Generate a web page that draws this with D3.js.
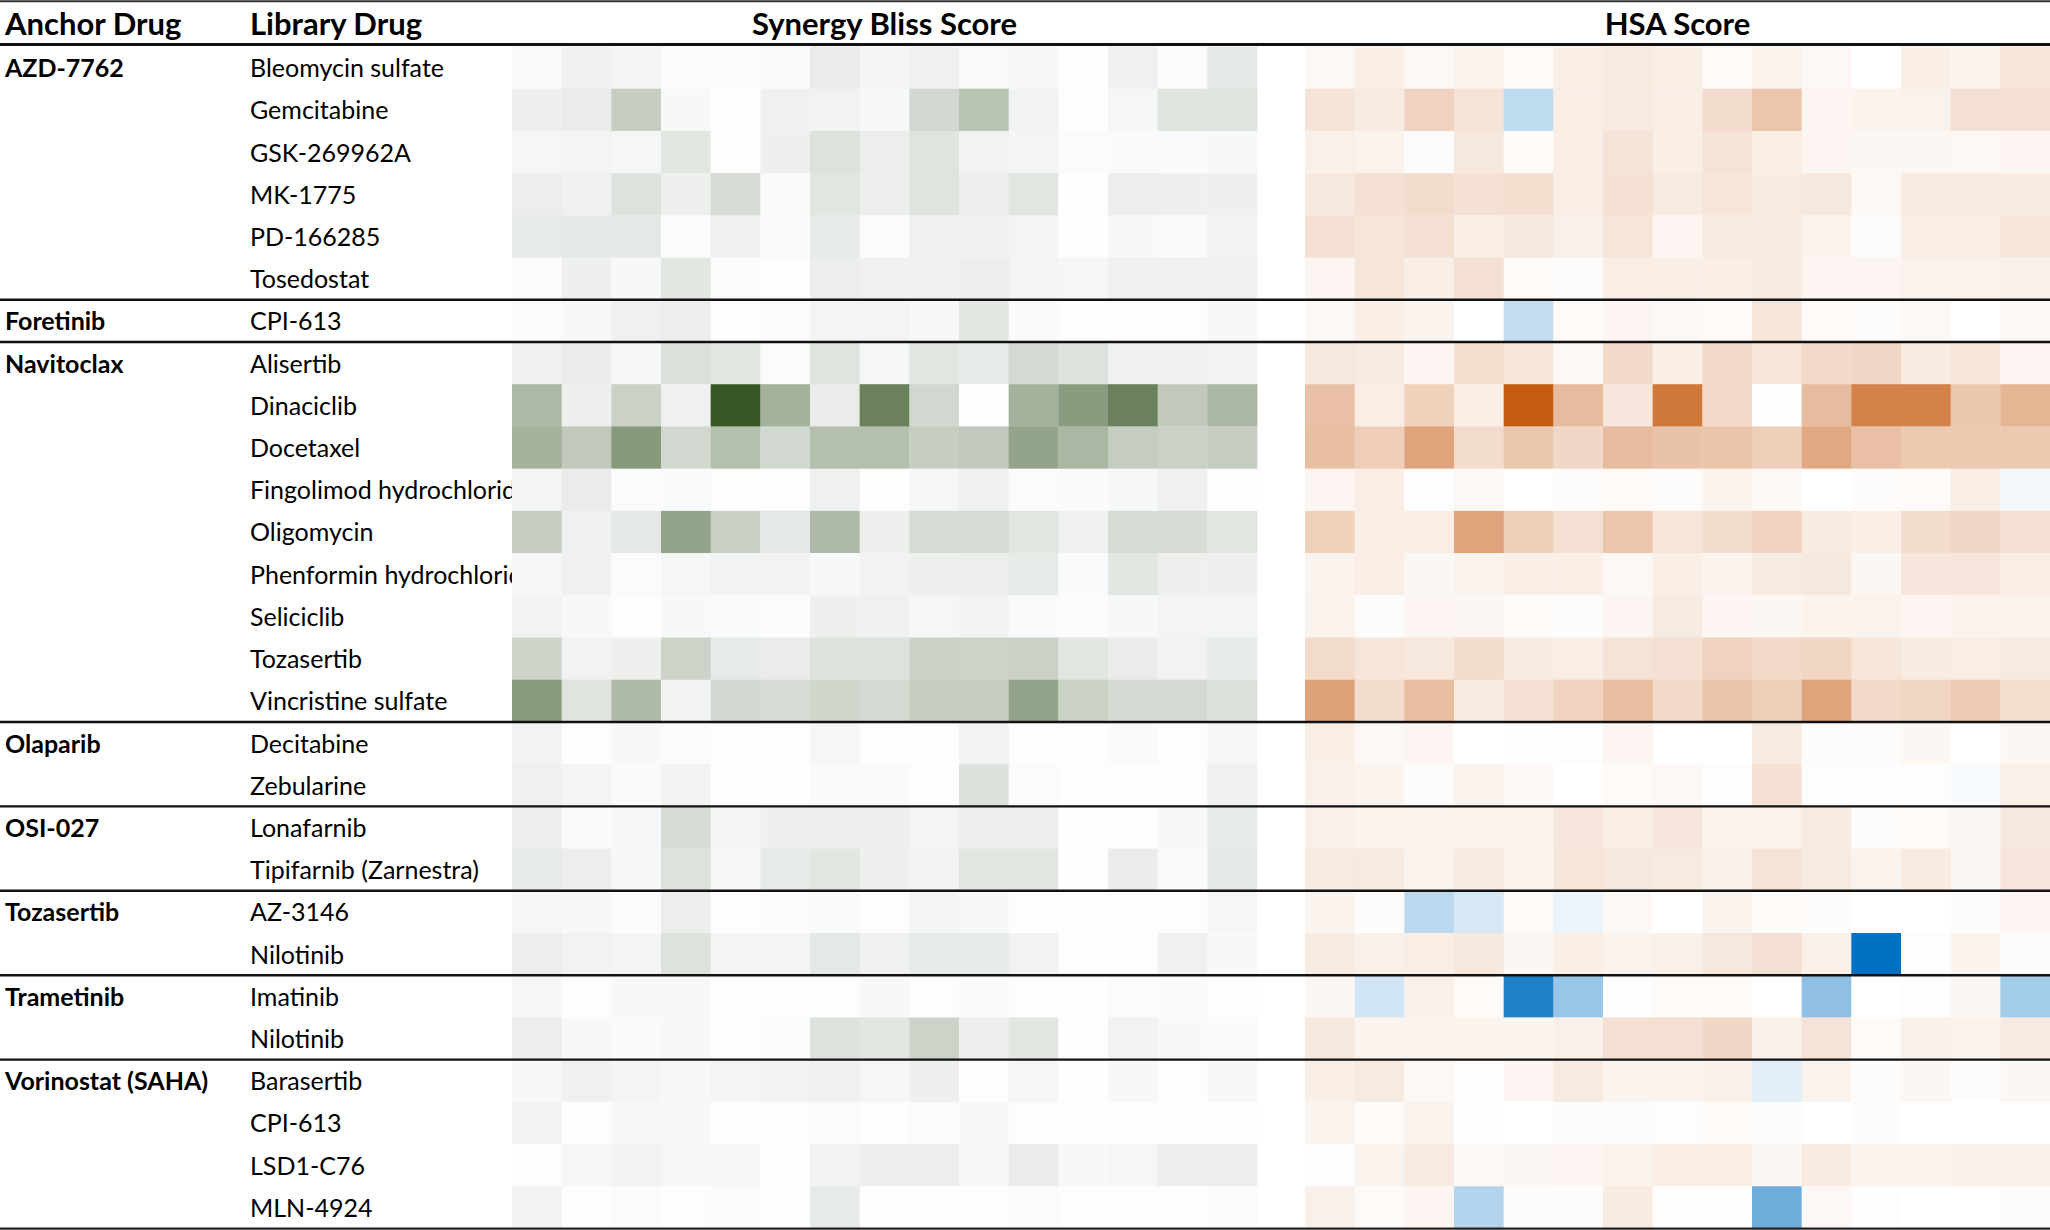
<!DOCTYPE html>
<html>
<head>
<meta charset="utf-8">
<script src="https://cdn.jsdelivr.net/npm/d3@7"></script>
<style>
  html, body { margin: 0; padding: 0; background: #ffffff; }
  svg { display: block; font-family: Lato, "Open Sans", sans-serif; }
</style>
</head>
<body>
<svg id="chart" width="2050" height="1230"></svg>
<script>
// ---------------- DATA ----------------
const columnHeaders = ["Anchor Drug", "Library Drug"];
const panelTitles = ["Synergy Bliss Score", "HSA Score"];
const anchorDrugs = ["AZD-7762", "Foretinib", "Navitoclax", "Olaparib", "OSI-027", "Tozasertib", "Trametinib", "Vorinostat (SAHA)"];
const groupSizes = [6, 1, 9, 2, 2, 2, 2, 4];
const libraryDrugs = [
  "Bleomycin sulfate", "Gemcitabine", "GSK-269962A", "MK-1775", "PD-166285", "Tosedostat",
  "CPI-613",
  "Alisertib", "Dinaciclib", "Docetaxel", "Fingolimod hydrochloride", "Oligomycin",
  "Phenformin hydrochloride", "Seliciclib", "Tozasertib", "Vincristine sulfate",
  "Decitabine", "Zebularine",
  "Lonafarnib", "Tipifarnib (Zarnestra)",
  "AZ-3146", "Nilotinib",
  "Imatinib", "Nilotinib",
  "Barasertib", "CPI-613", "LSD1-C76", "MLN-4924"
];
// relative synergy intensity (0 = none, 100 = strongest)
const blissScores = [
  [2, 7, 5, 1, 1, 2, 10, 5, 7, 2, 3, 0, 7, 1, 12],
  [8, 10, 28, 3, 0, 7, 6, 3, 22, 35, 6, 0, 4, 15, 15],
  [4, 5, 4, 13, 0, 8, 16, 9, 15, 6, 5, 1, 2, 2, 3],
  [9, 7, 16, 8, 19, 2, 14, 9, 15, 9, 14, 0, 9, 8, 8],
  [11, 12, 12, 1, 7, 2, 11, 1, 7, 7, 5, 0, 3, 2, 6],
  [1, 8, 3, 13, 1, 0, 9, 7, 7, 9, 5, 4, 7, 7, 7],
  [1, 3, 7, 9, 0, 1, 5, 5, 3, 13, 2, 0, 0, 0, 3],
  [7, 10, 4, 17, 13, 1, 15, 4, 14, 11, 21, 16, 7, 7, 6],
  [41, 8, 26, 7, 100, 45, 10, 74, 22, 0, 45, 58, 74, 31, 42],
  [45, 31, 60, 22, 37, 22, 37, 37, 28, 31, 53, 42, 29, 26, 28],
  [5, 10, 1, 2, 0, 0, 7, 0, 4, 7, 1, 2, 3, 7, 0],
  [28, 7, 12, 53, 27, 12, 40, 8, 20, 20, 14, 7, 20, 19, 13],
  [4, 7, 1, 4, 6, 6, 3, 6, 8, 9, 11, 2, 13, 8, 8],
  [6, 3, 0, 3, 2, 1, 8, 7, 4, 6, 2, 1, 3, 5, 5],
  [24, 6, 8, 25, 11, 10, 16, 16, 26, 25, 26, 14, 10, 6, 11],
  [58, 15, 40, 6, 22, 20, 23, 21, 29, 28, 53, 26, 21, 21, 17],
  [6, 0, 3, 1, 0, 0, 4, 0, 0, 6, 0, 0, 2, 0, 4],
  [7, 5, 2, 6, 0, 0, 2, 2, 0, 17, 1, 0, 0, 0, 7],
  [9, 2, 3, 19, 5, 8, 8, 8, 5, 8, 9, 0, 0, 3, 11],
  [11, 9, 3, 16, 3, 11, 13, 8, 6, 14, 14, 0, 10, 2, 12],
  [4, 3, 1, 9, 0, 1, 2, 0, 5, 3, 0, 0, 0, 0, 4],
  [9, 6, 5, 16, 5, 5, 12, 7, 11, 11, 6, 0, 0, 7, 3],
  [4, 0, 3, 3, 0, 0, 0, 3, 0, 2, 0, 0, 1, 2, 0],
  [9, 3, 2, 3, 0, 1, 16, 14, 25, 8, 14, 0, 6, 3, 2],
  [3, 7, 5, 3, 5, 6, 7, 4, 8, 0, 4, 0, 3, 0, 3],
  [6, 0, 3, 3, 0, 0, 1, 0, 1, 3, 0, 0, 0, 0, 0],
  [0, 4, 6, 4, 3, 0, 6, 9, 9, 3, 10, 3, 4, 9, 9],
  [6, 0, 1, 0, 1, 0, 11, 0, 0, 0, 1, 0, 0, 0, 1]
];
// relative HSA intensity (-100 strongest antagonism, +100 strongest synergy)
const hsaScores = [
  [4, 10, 4, 8, 3, 10, 13, 10, 3, 7, 4, 0, 10, 7, 16],
  [17, 12, 27, 17, -25, 11, 13, 11, 21, 35, 6, 7, 8, 19, 19],
  [9, 8, 2, 14, 3, 11, 17, 10, 17, 11, 6, 5, 5, 4, 6],
  [14, 18, 21, 18, 20, 11, 18, 13, 16, 12, 14, 4, 13, 12, 12],
  [18, 16, 18, 10, 14, 9, 16, 6, 12, 12, 7, 2, 10, 11, 16],
  [6, 16, 10, 18, 3, 2, 11, 10, 10, 12, 6, 6, 8, 8, 9],
  [4, 10, 7, 0, -24, 3, 6, 4, 3, 16, 3, 2, 4, 0, 4],
  [14, 13, 6, 20, 16, 4, 23, 10, 23, 16, 23, 24, 12, 16, 6],
  [38, 11, 28, 10, 100, 41, 15, 82, 23, 1, 41, 76, 76, 34, 45],
  [39, 30, 55, 21, 34, 24, 41, 37, 36, 29, 52, 38, 33, 33, 33],
  [6, 11, 1, 4, 0, 2, 3, 2, 7, 4, 0, 2, 3, 11, -5],
  [28, 10, 11, 55, 29, 19, 35, 16, 21, 26, 12, 10, 21, 24, 19],
  [7, 11, 5, 7, 10, 10, 4, 10, 7, 12, 14, 5, 15, 15, 11],
  [8, 2, 6, 5, 3, 2, 6, 13, 6, 5, 7, 8, 6, 7, 8],
  [22, 16, 14, 21, 12, 11, 17, 18, 27, 23, 25, 16, 12, 11, 13],
  [56, 21, 40, 12, 19, 26, 40, 23, 36, 29, 55, 23, 25, 31, 20],
  [10, 4, 6, 0, 1, 1, 6, 0, 0, 12, 2, 2, 5, 0, 5],
  [9, 7, 2, 7, 4, 0, 3, 4, 1, 18, 1, 1, 1, -3, 9],
  [9, 7, 7, 8, 8, 15, 10, 15, 7, 8, 12, 2, 3, 5, 14],
  [13, 13, 7, 12, 8, 16, 14, 13, 9, 17, 13, 8, 12, 5, 15],
  [7, 2, -27, -16, 3, -8, 4, 0, 7, 3, 2, 0, 0, 2, 6],
  [12, 9, 11, 14, 5, 10, 8, 9, 14, 19, 9, -100, 1, 7, 2],
  [5, -18, 9, 3, -88, -40, 1, 3, 3, 0, -44, 0, 1, 5, -36],
  [14, 7, 7, 7, 7, 9, 19, 19, 24, 9, 17, 3, 9, 8, 13],
  [10, 13, 4, 1, 6, 13, 7, 8, 9, -12, 8, 2, 5, 2, 5],
  [7, 3, 8, 1, 0, 2, 2, 1, 3, 2, 0, 2, 0, 0, 0],
  [1, 7, 13, 4, 5, 6, 8, 11, 11, 5, 13, 7, 7, 9, 9],
  [9, 3, 6, -30, 2, 2, 12, 1, 1, -57, 4, 1, 0, 0, 2]
];

// ---------------- LAYOUT ----------------
const W = 2050, H = 1230;
const svg = d3.select("#chart");
const nCols = 15;

const y = d3.scaleBand().domain(d3.range(libraryDrugs.length)).range([46.5, 1228.5]).padding(0);
const xBliss = d3.scaleBand().domain(d3.range(nCols)).range([512, 1257]).padding(0);
const xHsa = d3.scaleBand().domain(d3.range(nCols)).range([1305, 2050]).padding(0);

const blissColor = d3.scaleLinear().domain([0, 100]).range(["#fdfdff", "#375623"]).clamp(true);
const hsaColor = d3.scaleLinear().domain([-100, 0, 100]).range(["#0070c0", "#ffffff", "#c55a11"]).clamp(true);

// group start indices
const groupStarts = [];
let acc = 0;
groupSizes.forEach(s => { groupStarts.push(acc); acc += s; });

// ---------------- HEATMAPS ----------------
function drawPanel(data, x, color, cls) {
  const g = svg.append("g").attr("class", cls);
  data.forEach((row, r) => {
    g.selectAll(null)
      .data(row)
      .enter()
      .append("rect")
      .attr("x", (d, c) => x(c))
      .attr("y", y(r))
      .attr("width", x.bandwidth() + 0.4)
      .attr("height", y.bandwidth() + 0.4)
      .attr("fill", d => color(d));
  });
}
drawPanel(blissScores, xBliss, blissColor, "bliss");
drawPanel(hsaScores, xHsa, hsaColor, "hsa");

// ---------------- TEXT ----------------
svg.append("defs").append("clipPath").attr("id", "libclip")
  .append("rect").attr("x", 0).attr("y", 0).attr("width", xBliss.range()[0]).attr("height", H);

const headerY = 23;
const headerSize = 31;
svg.append("text").attr("x", 5).attr("y", headerY)
  .attr("dominant-baseline", "central")
  .attr("font-size", headerSize).attr("font-weight", "bold").text(columnHeaders[0]);
svg.append("text").attr("x", 250).attr("y", headerY)
  .attr("dominant-baseline", "central")
  .attr("font-size", headerSize).attr("font-weight", "bold").text(columnHeaders[1]);
[[xBliss, panelTitles[0]], [xHsa, panelTitles[1]]].forEach(([x, t]) => {
  const [a, b] = x.range();
  svg.append("text").attr("x", (a + b) / 2).attr("y", headerY)
    .attr("text-anchor", "middle").attr("dominant-baseline", "central")
    .attr("font-size", headerSize).attr("font-weight", "bold").text(t);
});

svg.append("g").attr("clip-path", "url(#libclip)")
  .selectAll("text").data(libraryDrugs).enter().append("text")
  .attr("x", 250)
  .attr("y", (d, i) => y(i) + y.bandwidth() / 2 - 0.5)
  .attr("dominant-baseline", "central")
  .attr("font-size", 25)
  .text(d => d);

svg.append("g").selectAll("text").data(anchorDrugs).enter().append("text")
  .attr("x", 5)
  .attr("y", (d, i) => y(groupStarts[i]) + y.bandwidth() / 2 - 0.5)
  .attr("dominant-baseline", "central")
  .attr("font-size", 25).attr("font-weight", "bold")
  .text(d => d);

// ---------------- RULES ----------------
const lines = svg.append("g");
lines.append("line").attr("x1", 0).attr("x2", W).attr("y1", 1.2).attr("y2", 1.2)
  .attr("stroke", "#333").attr("stroke-width", 2);
lines.append("line").attr("x1", 0).attr("x2", W).attr("y1", 44.5).attr("y2", 44.5)
  .attr("stroke", "#111").attr("stroke-width", 3);
groupStarts.slice(1).forEach(s => {
  lines.append("line").attr("x1", 0).attr("x2", W).attr("y1", y(s)).attr("y2", y(s))
    .attr("stroke", "#111").attr("stroke-width", 2.4);
});
lines.append("line").attr("x1", 0).attr("x2", W).attr("y1", 1228.6).attr("y2", 1228.6)
  .attr("stroke", "#222").attr("stroke-width", 2.4);
</script>
</body>
</html>
